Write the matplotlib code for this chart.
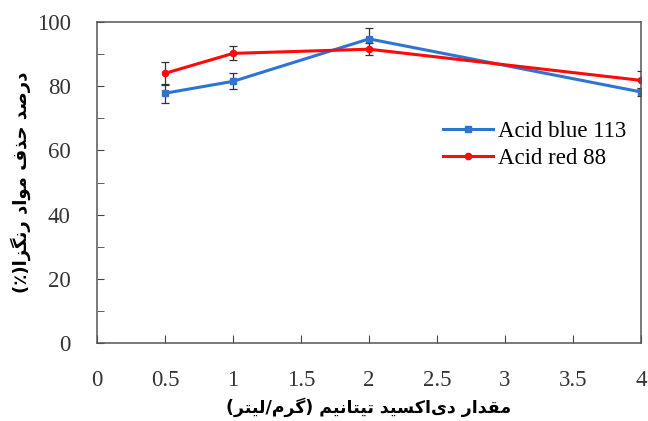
import matplotlib
matplotlib.use("Agg")
import matplotlib.pyplot as plt
from matplotlib.ticker import MultipleLocator

# data
dose = [0.5, 1, 2, 4]
blue_vals = [77.8, 81.5, 94.7, 78.2]
blue_err = [3.0, 2.5, 3.4, 1.2]
red_vals = [84.0, 90.2, 91.5, 81.8]
red_err = [3.6, 2.2, 1.8, 2.8]
series_names = ["Acid blue 113", "Acid red 88"]
xlabel_text = "مقدار دی\u200cاکسید تیتانیم (گرم/لیتر)"
ylabel_text = "درصد حذف مواد رنگزا(٪)"

# minimal Persian shaping: (isolated, final, initial, medial)
FORMS = {
    "ا": ("\uFE8D", "\uFE8E", None, None),
    "د": ("\uFEA9", "\uFEAA", None, None),
    "ذ": ("\uFEAB", "\uFEAC", None, None),
    "ر": ("\uFEAD", "\uFEAE", None, None),
    "ز": ("\uFEAF", "\uFEB0", None, None),
    "و": ("\uFEED", "\uFEEE", None, None),
    "ت": ("\uFE95", "\uFE96", "\uFE97", "\uFE98"),
    "ح": ("\uFEA1", "\uFEA2", "\uFEA3", "\uFEA4"),
    "س": ("\uFEB1", "\uFEB2", "\uFEB3", "\uFEB4"),
    "ص": ("\uFEB9", "\uFEBA", "\uFEBB", "\uFEBC"),
    "ف": ("\uFED1", "\uFED2", "\uFED3", "\uFED4"),
    "ق": ("\uFED5", "\uFED6", "\uFED7", "\uFED8"),
    "ل": ("\uFEDD", "\uFEDE", "\uFEDF", "\uFEE0"),
    "م": ("\uFEE1", "\uFEE2", "\uFEE3", "\uFEE4"),
    "ن": ("\uFEE5", "\uFEE6", "\uFEE7", "\uFEE8"),
    "ی": ("\uFBFC", "\uFBFD", "\uFBFE", "\uFBFF"),
    "ک": ("\uFB8E", "\uFB8F", "\uFB90", "\uFB91"),
    "گ": ("\uFB92", "\uFB93", "\uFB94", "\uFB95"),
}
MIRROR = {"(": ")", ")": "("}


def shape_rtl(text):
    out = []
    for i, ch in enumerate(text):
        if ch not in FORMS:
            if ch != "\u200c":
                out.append(MIRROR.get(ch, ch))
            continue
        prev = text[i - 1] if i > 0 else ""
        nxt = text[i + 1] if i + 1 < len(text) else ""
        joins_prev = prev in FORMS and FORMS[prev][2] is not None
        joins_next = FORMS[ch][2] is not None and nxt in FORMS
        iso, fin, ini, med = FORMS[ch]
        if joins_prev and joins_next:
            out.append(med)
        elif joins_prev:
            out.append(fin)
        elif joins_next:
            out.append(ini)
        else:
            out.append(iso)
    return "".join(reversed(out))


plt.rcParams["font.family"] = ["Liberation Serif", "DejaVu Serif"]

fig = plt.figure(figsize=(6.48, 4.21), dpi=100)
ax = fig.add_axes([0.150, 0.185, 0.839, 0.763])

ax.errorbar(dose, blue_vals, yerr=blue_err, color="#2f74d0", lw=2.2,
            marker="s", ms=4, ecolor="#333333", elinewidth=0.9, capsize=3,
            capthick=0.9, label=series_names[0])
ax.errorbar(dose, red_vals, yerr=red_err, color="#ff0a0a", lw=2.2,
            marker="o", ms=4.5, ecolor="#333333", elinewidth=0.9, capsize=3,
            capthick=0.9, label=series_names[1])

ax.set_xlim(0, 4)
ax.set_ylim(0, 100)
ax.yaxis.set_major_locator(MultipleLocator(20))
ax.yaxis.set_minor_locator(MultipleLocator(10))
ax.set_xticks([0, 0.5, 1, 1.5, 2, 2.5, 3, 3.5, 4])
ax.set_xticklabels(["0", "0.5", "1", "1.5", "2", "2.5", "3", "3.5", "4"])
ax.tick_params(axis="both", which="both", direction="in", labelsize=16.5,
               colors="#444444", labelcolor="#333333")
ax.tick_params(axis="x", which="major", length=6, pad=19)
ax.tick_params(axis="y", which="major", length=5, pad=19)
ax.tick_params(axis="y", which="minor", length=5)
for s in ax.spines.values():
    s.set_color("#555555")
    s.set_linewidth(1.1)

ax.set_xlabel(shape_rtl(xlabel_text), family=["DejaVu Sans"], weight="bold",
              fontsize=12.5, labelpad=5)
ax.set_ylabel(shape_rtl(ylabel_text), family=["DejaVu Sans"], weight="bold",
              fontsize=13, labelpad=4)

handles, labels = ax.get_legend_handles_labels()
handles = [h[0] for h in handles]
ax.legend(handles, labels, loc="upper right", bbox_to_anchor=(0.99, 0.72),
          frameon=False, fontsize=16.5, handlelength=2.2, handletextpad=0.2,
          labelspacing=0.25, borderaxespad=0)

fig.savefig("out.png", dpi=100)
